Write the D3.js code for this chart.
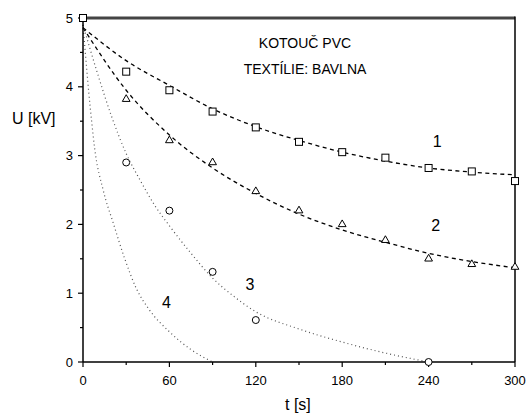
<!DOCTYPE html>
<html>
<head>
<meta charset="utf-8">
<script src="https://cdn.jsdelivr.net/npm/d3@7"></script>
<style>
  body { margin: 0; background: #fff; }
  svg { font-family: Arial, "Liberation Sans", sans-serif; }
</style>
</head>
<body>
<svg width="527" height="415"></svg>
<script>
// measured points
const t_square = [0, 30, 60, 90, 120, 150, 180, 210, 240, 270, 300]
const u_square = [5, 4.22, 3.95, 3.64, 3.41, 3.2, 3.05, 2.97, 2.82, 2.77, 2.63]
const t_triangle = [30, 60, 90, 120, 150, 180, 210, 240, 270, 300]
const u_triangle = [3.82, 3.22, 2.9, 2.48, 2.2, 2.0, 1.77, 1.5, 1.42, 1.38]
const t_circle = [30, 60, 90, 120, 240]
const u_circle = [2.9, 2.2, 1.31, 0.61, 0]

// fitted curves
const curve_1 = [[0, 4.86], [30, 4.38], [60, 4.02], [90, 3.68], [120, 3.42], [150, 3.22],
  [180, 3.05], [210, 2.92], [240, 2.82], [270, 2.76], [300, 2.72]]
const curve_2 = [[0, 4.86], [30, 3.95], [60, 3.3], [90, 2.82], [120, 2.45], [150, 2.15],
  [180, 1.92], [210, 1.74], [240, 1.58], [270, 1.46], [300, 1.37]]
const curve_3 = [[0, 4.9], [10, 4.2], [20, 3.56], [30, 3.03], [40, 2.63], [50, 2.27], [60, 1.98],
  [75, 1.58], [90, 1.22], [105, 0.95], [120, 0.73], [150, 0.48], [180, 0.29], [210, 0.13], [240, 0]]
const curve_4 = [[0, 4.9], [2, 4.4], [4, 3.92], [6, 3.5], [8, 3.12], [14, 2.5], [21, 2.02],
  [29, 1.5], [37, 1.07], [46, 0.76], [60, 0.44], [75, 0.18], [90, 0]]

const x_ticks = [0, 60, 120, 180, 240, 300]
const x_minor = [30, 90, 150, 210, 270]
const y_ticks = [0, 1, 2, 3, 4, 5]
const y_minor = [0.5, 1.5, 2.5, 3.5, 4.5]

const curve_labels = [
  {text: "1", t: 246, u: 3.12},
  {text: "2", t: 245, u: 1.9},
  {text: "3", t: 116, u: 1.05},
  {text: "4", t: 58, u: 0.78},
]
const notes = ["KOTOUČ PVC", "TEXTÍLIE: BAVLNA"]

const svg = d3.select("svg")
const x = d3.scaleLinear().domain([0, 300]).range([83, 515])
const y = d3.scaleLinear().domain([0, 5]).range([362, 18])

const line = d3.line()
  .x(d => x(d[0]))
  .y(d => y(d[1]))
  .curve(d3.curveMonotoneX)

// curves
const curves = [
  {data: curve_1, dash: "4,3.5", color: "#000", width: 1.3},
  {data: curve_2, dash: "4,3.5", color: "#000", width: 1.3},
  {data: curve_3, dash: "1,3", color: "#555", width: 1.2},
  {data: curve_4, dash: "1,3", color: "#555", width: 1.2},
]
svg.append("g")
  .selectAll("path")
  .data(curves)
  .enter()
  .append("path")
  .attr("d", d => line(d.data))
  .attr("fill", "none")
  .attr("stroke", d => d.color)
  .attr("stroke-width", d => d.width)
  .attr("stroke-dasharray", d => d.dash)

// frame
const g_axes = svg.append("g")
g_axes.append("line")
  .attr("x1", x(0)).attr("x2", x(300)).attr("y1", y(5)).attr("y2", y(5))
  .attr("stroke", "#444").attr("stroke-width", 3)
g_axes.append("line")
  .attr("x1", x(300)).attr("x2", x(300)).attr("y1", y(5) - 1.5).attr("y2", y(0))
  .attr("stroke", "#000").attr("stroke-width", 1.5)
g_axes.append("line")
  .attr("x1", x(0)).attr("x2", x(300)).attr("y1", y(0)).attr("y2", y(0))
  .attr("stroke", "#000").attr("stroke-width", 1.5)
g_axes.append("line")
  .attr("x1", x(0)).attr("x2", x(0)).attr("y1", y(5)).attr("y2", y(0))
  .attr("stroke", "#000").attr("stroke-width", 1.5)

// ticks
g_axes.selectAll(".xt")
  .data(x_ticks)
  .enter()
  .append("line")
  .attr("x1", d => x(d)).attr("x2", d => x(d))
  .attr("y1", y(0)).attr("y2", y(0) + 5)
  .attr("stroke", "#000").attr("stroke-width", 1.2)
g_axes.selectAll(".xm")
  .data(x_minor)
  .enter()
  .append("line")
  .attr("x1", d => x(d)).attr("x2", d => x(d))
  .attr("y1", y(0)).attr("y2", y(0) + 3)
  .attr("stroke", "#000").attr("stroke-width", 1.2)
g_axes.selectAll(".yt")
  .data(y_ticks)
  .enter()
  .append("line")
  .attr("x1", x(0) - 5).attr("x2", x(0))
  .attr("y1", d => y(d)).attr("y2", d => y(d))
  .attr("stroke", "#000").attr("stroke-width", 1.2)
g_axes.selectAll(".ym")
  .data(y_minor)
  .enter()
  .append("line")
  .attr("x1", x(0) - 3).attr("x2", x(0))
  .attr("y1", d => y(d)).attr("y2", d => y(d))
  .attr("stroke", "#000").attr("stroke-width", 1.2)

g_axes.selectAll(".xl")
  .data(x_ticks)
  .enter()
  .append("text")
  .attr("x", d => x(d))
  .attr("y", 385)
  .attr("text-anchor", "middle")
  .attr("font-size", 13)
  .text(d => d)
g_axes.selectAll(".yl")
  .data(y_ticks)
  .enter()
  .append("text")
  .attr("x", 73)
  .attr("y", d => y(d) + 4.5)
  .attr("text-anchor", "end")
  .attr("font-size", 13)
  .text(d => d)

// axis titles
svg.append("text")
  .attr("x", 12).attr("y", 124)
  .attr("font-size", 16)
  .text("U [kV]")
svg.append("text")
  .attr("x", 285).attr("y", 410)
  .attr("font-size", 16)
  .text("t [s]")

// markers
const g_marks = svg.append("g")
  .attr("fill", "#fff").attr("stroke", "#000").attr("stroke-width", 1)
g_marks.selectAll("rect")
  .data(d3.zip(t_square, u_square))
  .enter()
  .append("rect")
  .attr("x", d => x(d[0]) - 3.5).attr("y", d => y(d[1]) - 3.5)
  .attr("width", 7).attr("height", 7)
g_marks.selectAll(".tri")
  .data(d3.zip(t_triangle, u_triangle))
  .enter()
  .append("path")
  .attr("d", d3.symbol(d3.symbolTriangle, 26))
  .attr("transform", d => "translate(" + x(d[0]) + "," + y(d[1]) + ")")
g_marks.selectAll("circle")
  .data(d3.zip(t_circle, u_circle))
  .enter()
  .append("circle")
  .attr("cx", d => x(d[0])).attr("cy", d => y(d[1]))
  .attr("r", 3.5)

// labels
svg.selectAll(".cl")
  .data(curve_labels)
  .enter()
  .append("text")
  .attr("x", d => x(d.t))
  .attr("y", d => y(d.u))
  .attr("text-anchor", "middle")
  .attr("font-size", 16)
  .text(d => d.text)

svg.selectAll(".note")
  .data(notes)
  .enter()
  .append("text")
  .attr("x", 305)
  .attr("y", (d, i) => 48 + i * 26)
  .attr("text-anchor", "middle")
  .attr("font-size", 14)
  .text(d => d)
</script>
</body>
</html>
